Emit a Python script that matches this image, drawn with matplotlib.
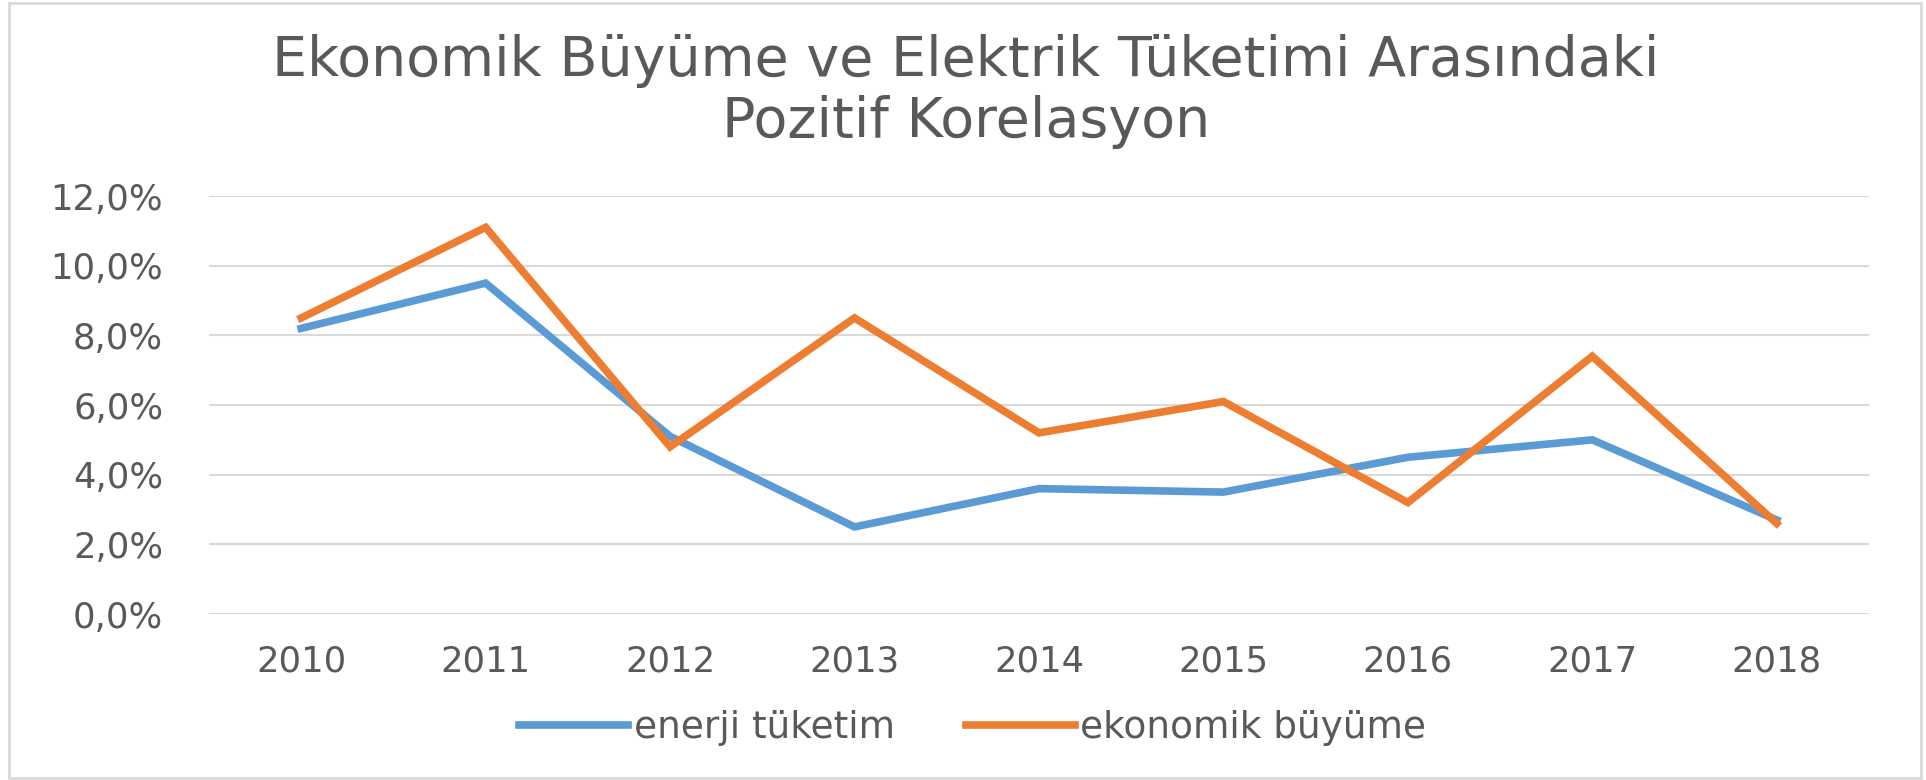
import matplotlib.pyplot as plt
from matplotlib.patches import Rectangle
from matplotlib.ticker import FuncFormatter

# veriler
yillar = ['2010', '2011', '2012', '2013', '2014', '2015', '2016', '2017', '2018']
enerji_tuketim = [8.2, 9.5, 5.1, 2.5, 3.6, 3.5, 4.5, 5.0, 2.7]
ekonomik_buyume = [8.5, 11.1, 4.8, 8.5, 5.2, 6.1, 3.2, 7.4, 2.6]

gri = '#595959'
plt.rcParams['font.family'] = ['DejaVu Sans']

fig = plt.figure(figsize=(19.26, 7.80), dpi=100)
ax = fig.add_axes([0.1085, 0.2128, 0.8619, 0.5359])

x = range(len(yillar))
ax.plot(x, [v / 100 for v in enerji_tuketim], color='#5B9BD5', lw=5.5,
        label='enerji tüketim', solid_joinstyle='miter')
ax.plot(x, [v / 100 for v in ekonomik_buyume], color='#ED7D31', lw=5.5,
        label='ekonomik büyüme', solid_joinstyle='miter')

ax.set_xlim(-0.5, len(yillar) - 0.5)
ax.set_ylim(0, 0.12)
ax.set_yticks([0, 0.02, 0.04, 0.06, 0.08, 0.10, 0.12])
ax.yaxis.set_major_formatter(FuncFormatter(lambda v, p: f'{v * 100:.1f}%'.replace('.', ',')))
ax.set_xticks(list(x))
ax.set_xticklabels(yillar)

ax.grid(axis='y', color='#D9D9D9', lw=1.5)
ax.set_axisbelow(True)
for s in ax.spines.values():
    s.set_visible(False)
ax.tick_params(axis='both', length=0, labelsize=25.5, labelcolor=gri)
ax.tick_params(axis='y', pad=33)
ax.tick_params(axis='x', pad=22)

# baslik
fig.text(0.5015, 0.9026, 'Ekonomik Büyüme ve Elektrik Tüketimi Arasındaki',
         ha='center', va='baseline', fontsize=40, color=gri)
fig.text(0.5015, 0.8244, 'Pozitif Korelasyon',
         ha='center', va='baseline', fontsize=40, color=gri)

# lejant
leg = ax.legend(loc='center', bbox_to_anchor=(0.505, 0.0667),
                bbox_transform=fig.transFigure, ncol=2, frameon=False,
                fontsize=27, handlelength=2.9, handletextpad=0.15,
                columnspacing=1.9)
for t in leg.get_texts():
    t.set_color(gri)

# cerceve
fig.patches.append(Rectangle((9 / 1926, 2 / 780), 1912 / 1926, 775 / 780,
                             transform=fig.transFigure, fill=False,
                             edgecolor='#D9D9D9', lw=2))

fig.savefig('out.png', dpi=100, facecolor='white')
